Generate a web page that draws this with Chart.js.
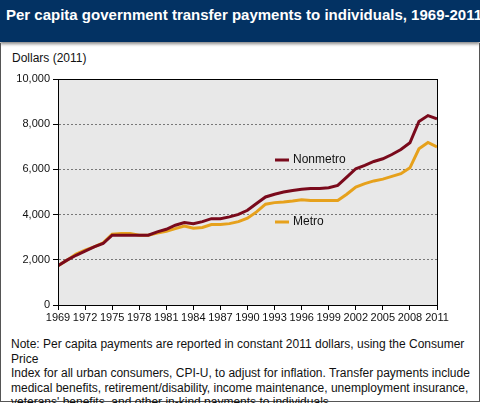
<!DOCTYPE html>
<html><head><meta charset="utf-8">
<script src="https://cdn.jsdelivr.net/npm/chart.js@4"></script>
<style>
body{margin:0;width:480px;height:403px;font-family:"Liberation Sans",Arial,sans-serif;background:#fff;position:relative;overflow:hidden}
#hdr{position:absolute;left:0;top:0;width:480px;height:42px;background:#033263;box-shadow:0 2px 3px #888}
#hdr div{color:#fff;font-weight:bold;font-size:15px;padding:6px 0 0 6px;white-space:nowrap}
#panel{position:absolute;left:0;top:43px;width:478px;height:358px;border:1px solid #555;border-top:none}
#ylab{position:absolute;left:12px;top:51px;font-size:12px;color:#111}
#cv{position:absolute;left:0;top:42px}
#note{position:absolute;left:11px;top:337px;font-size:12px;line-height:14.6px;color:#111;width:470px}
</style></head><body>
<div id="hdr"><div>Per capita government transfer payments to individuals, 1969-2011</div></div>
<div id="panel"></div>
<div id="ylab">Dollars (2011)</div>
<canvas id="cv" width="480" height="285" style="width:480px;height:285px"></canvas>
<div id="note">Note: Per capita payments are reported in constant 2011 dollars, using the Consumer Price<br>Index for all urban consumers, CPI-U, to adjust for inflation. Transfer payments include<br>medical benefits, retirement/disability, income maintenance, unemployment insurance,<br>veterans' benefits, and other in-kind payments to individuals.<br>Source: USDA, Economic Research Service using data from Bureau of Economic Analysis.</div>
<script>
const years=[];for(let y=1969;y<=2011;y++)years.push(y);
const nonmetro=[1735,1985,2200,2380,2570,2720,3090,3090,3090,3090,3090,3235,3350,3530,3650,3600,3690,3820,3820,3900,4010,4190,4490,4780,4900,5000,5070,5120,5150,5150,5190,5290,5660,6030,6180,6350,6470,6660,6880,7180,8120,8380,8240];
const metro=[1735,1985,2250,2430,2570,2750,3130,3160,3160,3090,3090,3180,3260,3380,3490,3400,3430,3560,3560,3600,3690,3840,4120,4460,4530,4560,4600,4660,4620,4620,4620,4620,4900,5220,5370,5490,5570,5690,5810,6070,6910,7190,6990];
const seriesNames=["Nonmetro","Metro"];
const colors=["#7a0a1c","#e6a11c"];
const FONT='"Liberation Sans", Arial, sans-serif';
const pts=a=>a.map((v,i)=>({x:years[i],y:v}));
const deco={id:'deco',
beforeDraw(c){const a=c.chartArea,x=c.ctx;x.save();x.fillStyle='#e8e8e8';x.fillRect(a.left,a.top,a.width,a.height);x.restore();},
afterDraw(c){const a=c.chartArea,x=c.ctx;x.save();x.strokeStyle='#000';x.lineWidth=1;x.strokeRect(a.left+0.5,a.top+0.5,a.width,a.height);
const L=[[275,118],[275,180]];x.font='12px '+FONT;x.textBaseline='middle';
L.forEach((p,i)=>{x.strokeStyle=colors[i];x.lineWidth=3;x.beginPath();x.moveTo(p[0],p[1]);x.lineTo(p[0]+14,p[1]);x.stroke();x.fillStyle='#111';x.fillText(seriesNames[i],p[0]+18,p[1]);});
x.restore();}};
new Chart(document.getElementById('cv'),{type:'line',
data:{datasets:[{label:seriesNames[0],data:pts(nonmetro),borderColor:colors[0],borderWidth:3,pointRadius:0,tension:0},
{label:seriesNames[1],data:pts(metro),borderColor:colors[1],borderWidth:3,pointRadius:0,tension:0}]},
options:{responsive:false,animation:false,devicePixelRatio:1,
layout:{padding:{left:4,right:43,top:37,bottom:0}},
plugins:{legend:{display:false},tooltip:{enabled:false}},
scales:{
x:{type:'linear',min:1969,max:2011,afterFit:s=>{s.height=22},
ticks:{stepSize:3,autoSkip:false,maxRotation:0,color:'#111',font:{size:11,family:FONT},padding:1,callback:v=>String(v)},
grid:{drawOnChartArea:false,tickLength:5,tickColor:'#000'},border:{color:'#000'}},
y:{min:0,max:10000,afterFit:s=>{s.width=54},
ticks:{stepSize:2000,color:'#111',font:{size:11,family:FONT},padding:3,callback:v=>v.toLocaleString('en-US')},
grid:{color:'#777',tickColor:'#000',tickLength:5,tickBorderDash:[]},border:{color:'#000',dash:[2,2]}}}},
plugins:[deco]});
</script></body></html>
